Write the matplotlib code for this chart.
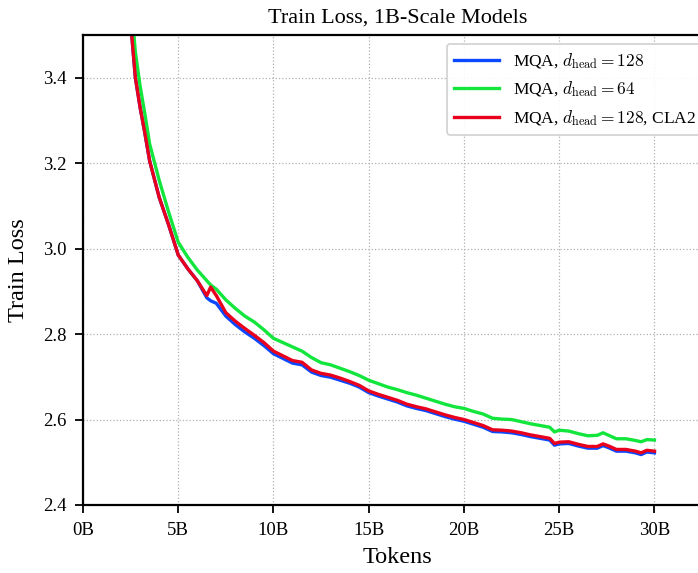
import numpy as np
import matplotlib
matplotlib.use("Agg")
import matplotlib.pyplot as plt
from matplotlib.ticker import FuncFormatter

plt.rcParams['font.family'] = ['Liberation Serif', 'DejaVu Serif']
plt.rcParams['mathtext.fontset'] = 'cm'

# tokens seen (billions)
tokens = [2.5, 2.75, 3.0, 3.25, 3.5, 4.0, 4.5, 5.0, 5.5, 6.0, 6.5, 6.7, 7.0, 7.5,
          8.0, 8.5, 9.0, 9.5, 10.0, 10.5, 11.0, 11.5, 12.0, 12.5, 13.0, 13.5,
          14.0, 14.5, 15.0, 15.5, 16.0, 16.5, 17.0, 17.5, 18.0, 18.5, 19.0, 19.5,
          20.0, 20.5, 21.0, 21.5, 22.0, 22.5, 23.0, 23.5, 24.0, 24.5, 24.75,
          25.0, 25.5, 26.0, 26.5, 27.0, 27.3, 27.6, 28.0, 28.5, 29.0, 29.3,
          29.6, 30.0]

loss_mqa128 = [3.53, 3.40, 3.33, 3.27, 3.205, 3.12, 3.055, 2.985, 2.953, 2.925,
               2.885, 2.878, 2.872, 2.842, 2.822, 2.805, 2.79, 2.773, 2.754,
               2.743, 2.732, 2.728, 2.711, 2.703, 2.699, 2.692, 2.685, 2.676,
               2.663, 2.655, 2.648, 2.641, 2.632, 2.626, 2.621, 2.614, 2.607,
               2.601, 2.596, 2.589, 2.582, 2.572, 2.571, 2.569, 2.565, 2.560,
               2.556, 2.552, 2.540, 2.543, 2.544, 2.538, 2.533, 2.533, 2.539,
               2.534, 2.526, 2.526, 2.522, 2.518, 2.524, 2.522]

loss_mqa64 = [3.59, 3.46, 3.38, 3.315, 3.245, 3.16, 3.085, 3.015, 2.98, 2.95,
              2.925, 2.915, 2.905, 2.88, 2.86, 2.842, 2.828, 2.81, 2.79, 2.78,
              2.77, 2.76, 2.745, 2.733, 2.728, 2.72, 2.712, 2.703, 2.692, 2.684,
              2.676, 2.67, 2.663, 2.657, 2.65, 2.643, 2.636, 2.63, 2.626, 2.619,
              2.613, 2.603, 2.601, 2.600, 2.595, 2.59, 2.586, 2.582, 2.571,
              2.575, 2.573, 2.567, 2.562, 2.563, 2.569, 2.563, 2.555, 2.555,
              2.551, 2.548, 2.553, 2.552]

loss_cla2 = [3.53, 3.40, 3.33, 3.27, 3.205, 3.12, 3.055, 2.985, 2.953, 2.925,
             2.89, 2.91, 2.89, 2.85, 2.83, 2.813, 2.797, 2.78, 2.76, 2.749,
             2.738, 2.734, 2.716, 2.708, 2.704, 2.697, 2.689, 2.68, 2.667,
             2.659, 2.652, 2.645, 2.636, 2.630, 2.625, 2.618, 2.611, 2.605,
             2.600, 2.593, 2.586, 2.576, 2.575, 2.573, 2.569, 2.564, 2.560,
             2.556, 2.544, 2.547, 2.548, 2.542, 2.537, 2.537, 2.543, 2.538,
             2.53, 2.53, 2.526, 2.522, 2.528, 2.526]

labels = [r'MQA, $d_{\mathrm{head}} = 128$',
          r'MQA, $d_{\mathrm{head}} = 64$',
          r'MQA, $d_{\mathrm{head}} = 128$, CLA2']
colors = ['#0b48ff', '#12e63c', '#e8001c']

fig = plt.figure(figsize=(6.98, 5.73), dpi=100)
ax = fig.add_axes([0.1189, 0.1187, 0.9006, 0.8202])

for y, lab, c in zip([loss_mqa128, loss_mqa64, loss_cla2], labels, colors):
    ax.plot(tokens, y, color=c, lw=2.4, label=lab)

ax.set_xlim(0, 33)
ax.set_ylim(2.4, 3.5)
ax.set_xticks(np.arange(0, 31, 5))
ax.set_yticks([2.4, 2.6, 2.8, 3.0, 3.2, 3.4])
ax.xaxis.set_major_formatter(FuncFormatter(lambda v, p: f'{int(v)}B'))
ax.yaxis.set_major_formatter(FuncFormatter(lambda v, p: f'{v:.1f}'))
ax.tick_params(direction='out', length=6, width=1.3, labelsize=13.5, pad=6)
for s in ax.spines.values():
    s.set_linewidth(1.6)
ax.grid(True, linestyle=':', color='#b0b0b0', lw=0.9)

ax.set_title('Train Loss, 1B-Scale Models', fontsize=16, pad=9)
ax.set_xlabel('Tokens', fontsize=17.5, labelpad=6)
ax.set_ylabel('Train Loss', fontsize=17.5, labelpad=10)

leg = ax.legend(loc='upper right', fontsize=12.5, handlelength=2.6,
                framealpha=0.9, edgecolor='#cccccc', fancybox=True)
leg.get_frame().set_linewidth(1.2)

plt.savefig('out.png', dpi=100)
